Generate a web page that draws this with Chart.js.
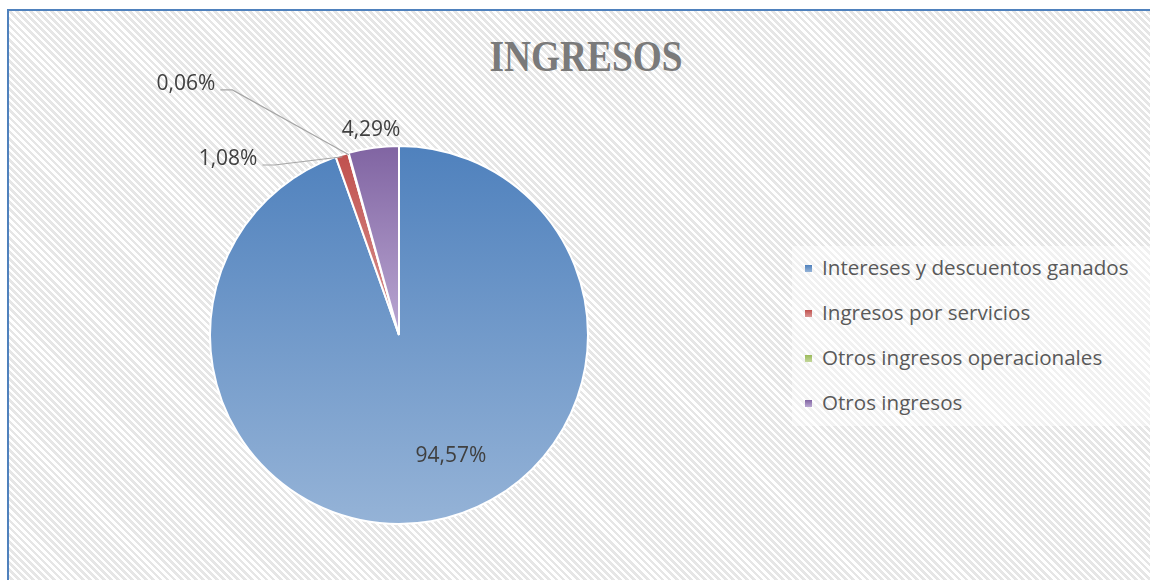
<!DOCTYPE html>
<html><head><meta charset="utf-8">
<script src="https://cdn.jsdelivr.net/npm/chart.js@4.4.1/dist/chart.umd.min.js"></script>
<style>
html,body{margin:0;padding:0;background:#fff;width:1150px;height:580px;overflow:hidden;position:relative;}
#frame{position:absolute;left:7px;top:9px;right:-30px;bottom:-30px;border-left:2px solid #4f81bd;border-top:2px solid #4f81bd;background:repeating-linear-gradient(45deg,#ffffff 0px,#ffffff 2.3px,#e6e6e6 2.3px,#e6e6e6 5px);}
#title{position:absolute;left:386px;width:400px;top:34px;line-height:45px;text-align:center;font-family:"Liberation Serif",serif;font-weight:bold;font-size:45px;color:#7a7a7a;transform:scaleX(0.83);}
#legend{position:absolute;left:792px;top:246px;width:360px;height:180px;background:rgba(255,255,255,0.45);}
.txt{position:absolute;left:30px;height:28px;line-height:28px;font-family:"Open Sans",sans-serif;font-size:20.6px;color:#595959;white-space:nowrap;}
.sw{position:absolute;left:13px;width:7px;height:7px;}
#c{position:absolute;left:0;top:0;}
</style>
</head><body>
<div id="frame"></div>
<div id="title">INGRESOS</div>
<div id="legend"></div>
<canvas id="c" width="1150" height="580"></canvas>
<script>
const categories = ['Intereses y descuentos ganados', 'Ingresos por servicios', 'Otros ingresos operacionales', 'Otros ingresos'];
const values = [94.57, 1.08, 0.06, 4.29];
const valueLabels = ['94,57%', '1,08%', '0,06%', '4,29%'];
const baseColors = ['#4F81BD', '#C0504D', '#9BBB59', '#8064A2'];
const lightColors = ['#95B3D7', '#DA9694', '#C3D69B', '#BAA7D2'];

// label placement: angle offset from slice middle (deg), distance as fraction of radius
const labelOffsetDeg = [-13.8, -26.4, -24.65, 0];
const labelDist = [0.687, 1.302, 1.746, 1.10];
const labelLeader = [false, true, true, false];

// HTML legend
const leg = document.getElementById('legend');
categories.forEach((name, i) => {
  const sw = document.createElement('div');
  sw.className = 'sw';
  sw.style.top = (19 + i * 45) + 'px';
  sw.style.background = 'linear-gradient(' + baseColors[i] + ',' + lightColors[i] + ')';
  leg.appendChild(sw);
  const t = document.createElement('div');
  t.className = 'txt';
  t.style.top = (7 + i * 45) + 'px';
  t.textContent = name;
  leg.appendChild(t);
});

function sliceGradient(ctx) {
  const chart = ctx.chart;
  const area = chart.chartArea;
  const i = ctx.dataIndex;
  if (!area) return baseColors[i];
  const cy = (area.top + area.bottom) / 2;
  const r = Math.min(area.width, area.height) / 2;
  const total = values.reduce((a, b) => a + b, 0);
  let s = 0;
  for (let k = 0; k < i; k++) s += values[k];
  const a0 = -Math.PI / 2 + s / total * 2 * Math.PI;
  const a1 = a0 + values[i] / total * 2 * Math.PI;
  const ys = [cy, cy + r * Math.sin(a0), cy + r * Math.sin(a1)];
  for (const t of [-Math.PI / 2, Math.PI / 2, 3 * Math.PI / 2]) {
    if (t >= a0 - 1e-9 && t <= a1 + 1e-9) ys.push(cy + r * Math.sin(t));
  }
  const top = Math.min(...ys), bot = Math.max(...ys);
  const g = chart.ctx.createLinearGradient(0, top, 0, bot);
  g.addColorStop(0, baseColors[i]);
  g.addColorStop(1, lightColors[i]);
  return g;
}

const labelPlugin = {
  id: 'sliceLabels',
  afterDatasetsDraw(chart) {
    const ctx = chart.ctx;
    const meta = chart.getDatasetMeta(0);
    ctx.save();
    ctx.font = '21px "Open Sans", sans-serif';
    ctx.fillStyle = '#404040';
    ctx.textAlign = 'center';
    ctx.textBaseline = 'alphabetic';
    meta.data.forEach((arc, i) => {
      const p = arc.getProps(['x', 'y', 'startAngle', 'endAngle', 'outerRadius'], true);
      const mid = (p.startAngle + p.endAngle) / 2;
      const ang = mid + labelOffsetDeg[i] * Math.PI / 180;
      const R = p.outerRadius;
      const lx = p.x + Math.cos(ang) * labelDist[i] * R;
      const ly = p.y + Math.sin(ang) * labelDist[i] * R;
      ctx.fillText(valueLabels[i], lx, ly + 7.5);
      if (labelLeader[i]) {
        const w = ctx.measureText(valueLabels[i]).width;
        const sx = lx + w / 2 + 5, sy = ly + 7;
        ctx.beginPath();
        ctx.strokeStyle = '#a6a6a6';
        ctx.lineWidth = 1.2;
        ctx.moveTo(sx, sy);
        ctx.lineTo(sx + 12, sy);
        ctx.lineTo(p.x + Math.cos(mid) * (R - 2), p.y + Math.sin(mid) * (R - 2));
        ctx.stroke();
      }
    });
    ctx.restore();
  }
};

new Chart(document.getElementById('c'), {
  type: 'pie',
  data: {
    labels: categories,
    datasets: [{
      data: values,
      backgroundColor: sliceGradient,
      borderColor: '#ffffff',
      borderWidth: 2
    }]
  },
  options: {
    responsive: false,
    animation: false,
    layout: { padding: { left: 209, right: 561, top: 145, bottom: 55 } },
    plugins: {
      legend: { display: false },
      tooltip: { enabled: false },
      title: { display: false }
    }
  },
  plugins: [labelPlugin]
});
</script>
</body></html>
